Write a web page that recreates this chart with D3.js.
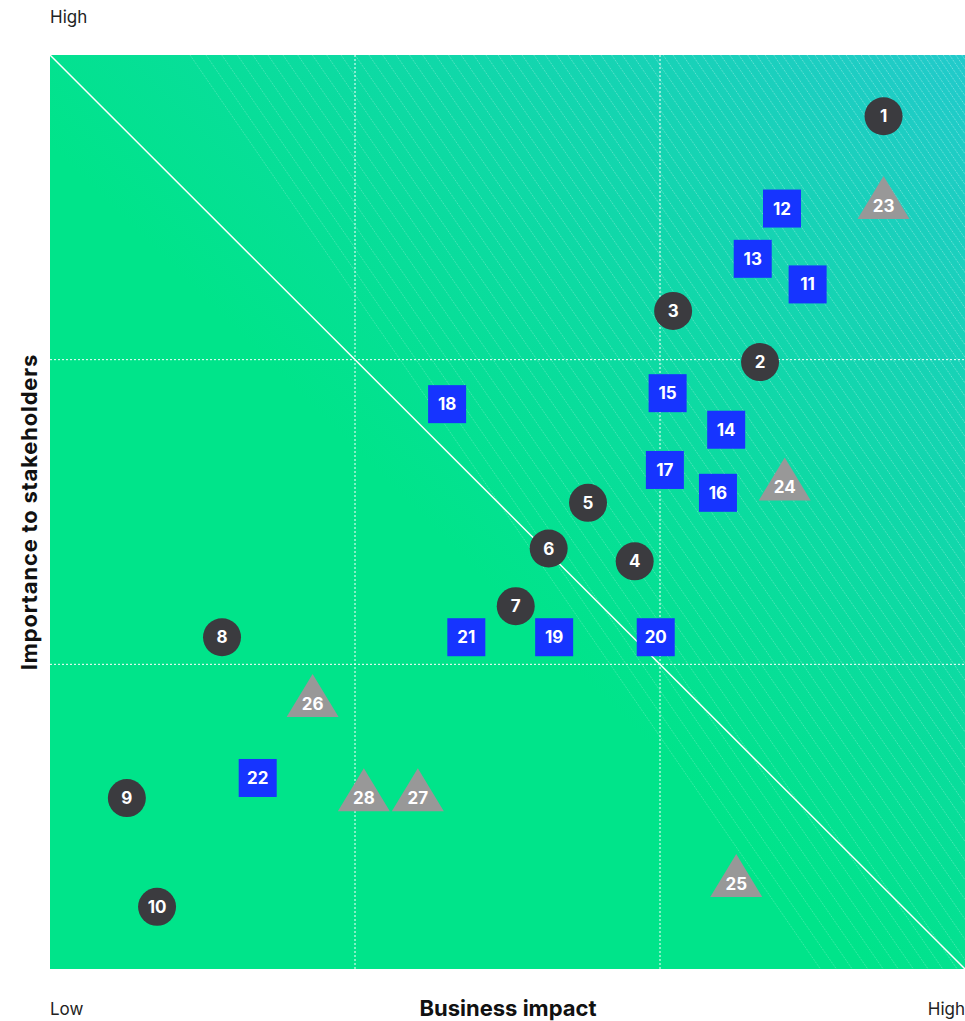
<!DOCTYPE html>
<html>
<head>
<meta charset="utf-8">
<script src="https://cdn.jsdelivr.net/npm/d3@7"></script>
<style>
  body { margin: 0; background: #fff; }
  svg { display: block; font-family: Inter, "Noto Sans", sans-serif; }
</style>
</head>
<body>
<svg id="chart" width="965" height="1021" viewBox="0 0 965 1021"></svg>
<script>
// --- data (0-100 on both axes) ---
const circleIds = [1, 2, 3, 4, 5, 6, 7, 8, 9, 10];
const circleX   = [91.1, 77.6, 68.1, 63.9, 58.8, 54.5, 50.9, 18.8, 8.4, 11.7];
const circleY   = [93.3, 66.4, 72.0, 44.6, 51.0, 46.0, 39.7, 36.3, 18.7, 6.8];

const squareIds = [11, 12, 13, 14, 15, 16, 17, 18, 19, 20, 21, 22];
const squareX   = [82.8, 80.0, 76.8, 73.9, 67.5, 73.0, 67.2, 43.4, 55.1, 66.2, 45.5, 22.7];
const squareY   = [74.9, 83.2, 77.7, 59.0, 63.0, 52.1, 54.6, 61.8, 36.3, 36.3, 36.3, 20.9];

const triangleIds = [23, 24, 25, 26, 27, 28];
const triangleX   = [91.1, 80.3, 75.0, 28.7, 40.2, 34.3];
const triangleY   = [83.6, 52.8, 9.4, 29.1, 18.8, 18.8];

const gridTicks = [100 / 3, 200 / 3];

const svg = d3.select("#chart");
const plot = { left: 50, top: 55, right: 965, bottom: 969 };

const x = d3.scaleLinear().domain([0, 100]).range([plot.left, plot.right]);
const y = d3.scaleLinear().domain([0, 100]).range([plot.bottom, plot.top]);

// --- background ---
const defs = svg.append("defs");
const grad = defs.append("linearGradient")
    .attr("id", "bg-grad")
    .attr("x1", 0).attr("y1", 1).attr("x2", 1).attr("y2", 0);
grad.append("stop").attr("offset", 0).attr("stop-color", "#00E48A");
grad.append("stop").attr("offset", 0.45).attr("stop-color", "#00E48A");
grad.append("stop").attr("offset", 1).attr("stop-color", "#22CACB");

defs.append("clipPath").attr("id", "plot-clip")
  .append("rect")
    .attr("x", plot.left).attr("y", plot.top)
    .attr("width", plot.right - plot.left).attr("height", plot.bottom - plot.top);

svg.append("rect")
    .attr("x", plot.left).attr("y", plot.top)
    .attr("width", plot.right - plot.left).attr("height", plot.bottom - plot.top)
    .attr("fill", "url(#bg-grad)");

// faint hatch lines, getting denser toward the top right
const hatch = svg.append("g").attr("clip-path", "url(#plot-clip)");
const slope = 1.45;
const plotH = plot.bottom - plot.top;
let hx = 190;
while (hx < plot.right) {
  const t = (hx - 190) / (plot.right - 190);
  hatch.append("line")
      .attr("x1", hx).attr("y1", plot.top)
      .attr("x2", hx + plotH / slope).attr("y2", plot.bottom)
      .attr("stroke", "#fff")
      .attr("stroke-width", 0.8)
      .attr("stroke-dasharray", "1,1")
      .attr("stroke-opacity", 0.35 + 0.2 * t);
  hx += 16 - 10 * t;
}

// dotted grid at thirds
const grid = svg.append("g");
grid.selectAll(".gx").data(gridTicks).join("line")
    .attr("x1", d => x(d)).attr("x2", d => x(d))
    .attr("y1", plot.top).attr("y2", plot.bottom)
    .attr("stroke", "#fff").attr("stroke-width", 1).attr("stroke-dasharray", "2,2");
grid.selectAll(".gy").data(gridTicks).join("line")
    .attr("y1", d => y(d)).attr("y2", d => y(d))
    .attr("x1", plot.left).attr("x2", plot.right)
    .attr("stroke", "#fff").attr("stroke-width", 1).attr("stroke-dasharray", "2,2");

// diagonal
svg.append("line")
    .attr("x1", x(0)).attr("y1", y(100))
    .attr("x2", x(100)).attr("y2", y(0))
    .attr("stroke", "#fff").attr("stroke-width", 1.5);

// --- marks ---
const labelStyle = sel => sel
    .attr("text-anchor", "middle")
    .attr("dominant-baseline", "central")
    .attr("fill", "#fff")
    .attr("font-size", 17)
    .attr("font-weight", 700)
    .text(d => d.id);

const circles = circleIds.map((id, i) => ({ id, x: circleX[i], y: circleY[i] }));
const squares = squareIds.map((id, i) => ({ id, x: squareX[i], y: squareY[i] }));
const triangles = triangleIds.map((id, i) => ({ id, x: triangleX[i], y: triangleY[i] }));

const triG = svg.append("g").selectAll("g").data(triangles).join("g")
    .attr("transform", d => `translate(${x(d.x)},${y(d.y)})`);
triG.append("path")
    .attr("d", "M0,-29 L26,14 L-26,14 Z")
    .attr("fill", "#989898");
triG.append("text").attr("y", 1).call(labelStyle);

const sqG = svg.append("g").selectAll("g").data(squares).join("g")
    .attr("transform", d => `translate(${x(d.x)},${y(d.y)})`);
sqG.append("rect")
    .attr("x", -19).attr("y", -19).attr("width", 38).attr("height", 38)
    .attr("fill", "#1634FF");
sqG.append("text").call(labelStyle);

const ciG = svg.append("g").selectAll("g").data(circles).join("g")
    .attr("transform", d => `translate(${x(d.x)},${y(d.y)})`);
ciG.append("circle").attr("r", 19).attr("fill", "#3B3B3F");
ciG.append("text").call(labelStyle);

// --- axis text ---
svg.append("text").attr("x", 50).attr("y", 23)
    .attr("font-size", 17).attr("fill", "#222").text("High");
svg.append("text").attr("x", 50).attr("y", 1015)
    .attr("font-size", 17).attr("fill", "#222").text("Low");
svg.append("text").attr("x", 965).attr("y", 1015).attr("text-anchor", "end")
    .attr("font-size", 17).attr("fill", "#222").text("High");

svg.append("text")
    .attr("x", 508).attr("y", 1016)
    .attr("text-anchor", "middle")
    .attr("font-size", 22).attr("font-weight", 700).attr("fill", "#111")
    .text("Business impact");

svg.append("text")
    .attr("transform", `translate(37,512) rotate(-90)`)
    .attr("text-anchor", "middle")
    .attr("font-size", 22).attr("font-weight", 700).attr("fill", "#111")
    .attr("letter-spacing", 0.8)
    .text("Importance to stakeholders");
</script>
</body>
</html>
